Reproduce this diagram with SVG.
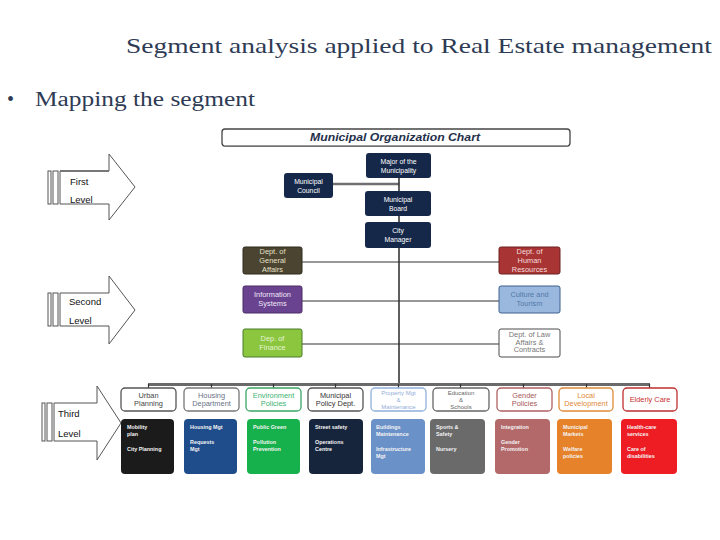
<svg xmlns="http://www.w3.org/2000/svg" width="720" height="540" viewBox="0 0 720 540">
<style>
.title{font-family:"Liberation Serif",serif;fill:#2e3b55}
.sans{font-family:"Liberation Sans",Arial,sans-serif}
.wt{font-family:"Liberation Sans",Arial,sans-serif;font-size:6.8px;fill:#ffffff;text-anchor:middle}
.hd{font-family:"Liberation Sans",Arial,sans-serif;font-size:7.4px;text-anchor:middle}
.h3{font-family:"Liberation Sans",Arial,sans-serif;font-size:6px;text-anchor:middle}
.bt{font-family:"Liberation Sans",Arial,sans-serif;font-size:5.4px;font-weight:bold;fill:#f4f4f4}
.lvl{font-family:"Liberation Sans",Arial,sans-serif;font-size:9.5px;fill:#111}
.arrow{fill:#ffffff;stroke:#555;stroke-width:1}
.bar{fill:#ffffff;stroke:#555;stroke-width:1}
.hbox{fill:#ffffff;stroke-width:1.3}
.conn{fill:none}
</style>
<rect width="720" height="540" fill="#ffffff"/>
<text class="title" x="126" y="53" font-size="22" textLength="586" lengthAdjust="spacingAndGlyphs">Segment analysis applied to Real Estate management</text>
<text class="title" x="7" y="106" font-size="20">•</text>
<text class="title" x="35" y="106" font-size="20.5" textLength="220" lengthAdjust="spacingAndGlyphs">Mapping the segment</text>

<!-- level arrows -->
<g id="level1">
<rect class="bar" x="48" y="171" width="3" height="33"/>
<rect class="bar" x="53" y="171" width="5" height="33"/>
<path class="arrow" d="M60,171 H109 V154 L135,187 L109,220 V204 H60 Z"/>
<line x1="60" y1="171" x2="109" y2="171" stroke="#777" stroke-width="2"/>
<text class="lvl" x="70" y="185">First</text>
<text class="lvl" x="70" y="203">Level</text>
</g>
<g id="level2">
<rect class="bar" x="48" y="293" width="3" height="33"/>
<rect class="bar" x="53" y="293" width="5" height="33"/>
<path class="arrow" d="M60,293 H109 V276 L135,310 L109,344 V326 H60 Z"/>
<text class="lvl" x="69" y="305">Second</text>
<text class="lvl" x="69" y="324">Level</text>
</g>
<g id="level3">
<rect class="bar" x="42" y="403" width="3" height="38"/>
<rect class="bar" x="47" y="403" width="5" height="38"/>
<path class="arrow" d="M54,403 H97 V386 L121,423 L97,460 V441 H54 Z"/>
<text class="lvl" x="58" y="417">Third</text>
<text class="lvl" x="58" y="437">Level</text>
</g>

<!-- header -->
<g id="chart-title">
<rect x="222" y="129" width="348" height="17" rx="3" fill="#ffffff" stroke="#444" stroke-width="1.3"/>
<line x1="224" y1="145.5" x2="568" y2="145.5" stroke="#999" stroke-width="1"/>
<text class="sans" x="395" y="141" font-size="11" font-weight="bold" font-style="italic" fill="#24304a" text-anchor="middle" textLength="170" lengthAdjust="spacingAndGlyphs">Municipal Organization Chart</text>
</g>

<!-- connectors -->
<g id="connectors" class="conn">
<line x1="333" y1="184" x2="399" y2="184" stroke="#707070" stroke-width="2.5"/>
<line x1="399" y1="178" x2="399" y2="384" stroke="#2a2a2a" stroke-width="1.5"/>
<line x1="302" y1="262" x2="499" y2="262" stroke="#333" stroke-width="1.2"/>
<line x1="302" y1="301" x2="499" y2="301" stroke="#333" stroke-width="1.2"/>
<line x1="302" y1="344" x2="499" y2="344" stroke="#333" stroke-width="1.2"/>
<line x1="148" y1="384.5" x2="650" y2="384.5" stroke="#6a6a6a" stroke-width="3"/>
<g stroke="#333" stroke-width="1.2">
<line x1="148.5" y1="384" x2="148.5" y2="388"/>
<line x1="211.5" y1="384" x2="211.5" y2="388"/>
<line x1="273.5" y1="384" x2="273.5" y2="388"/>
<line x1="335.5" y1="384" x2="335.5" y2="388"/>
<line x1="398.5" y1="384" x2="398.5" y2="388"/>
<line x1="460.5" y1="384" x2="460.5" y2="388"/>
<line x1="523.5" y1="384" x2="523.5" y2="388"/>
<line x1="586.5" y1="384" x2="586.5" y2="388"/>
<line x1="649.5" y1="384" x2="649.5" y2="388"/>
</g>
</g>

<!-- top nodes -->
<g id="mayor">
<rect x="366" y="153" width="65" height="25" rx="3" fill="#16284a"/>
<text class="wt" x="398.5" y="163.5">Major of the</text>
<text class="wt" x="398.5" y="173">Municipality</text>
</g>
<g id="council">
<rect x="284" y="173" width="49" height="25" rx="3" fill="#16284a"/>
<text class="wt" x="308.5" y="183.5">Municipal</text>
<text class="wt" x="308.5" y="193">Council</text>
</g>
<g id="board">
<rect x="365" y="191" width="66" height="25" rx="3" fill="#16284a"/>
<text class="wt" x="398" y="201.5">Municipal</text>
<text class="wt" x="398" y="211">Board</text>
</g>
<g id="city-manager">
<rect x="365" y="222" width="66" height="26" rx="3" fill="#16284a"/>
<text class="wt" x="398" y="232.5">City</text>
<text class="wt" x="398" y="242">Manager</text>
</g>

<!-- second level -->
<g id="general-affairs">
<rect x="243" y="247" width="59" height="27" rx="2" fill="#4a4430" stroke="#2f2b1e" stroke-width="1"/>
<text class="hd" x="272.5" y="254" fill="#e8e0c8">Dept. of</text>
<text class="hd" x="272.5" y="263" fill="#e8e0c8">General</text>
<text class="hd" x="272.5" y="272" fill="#e8e0c8">Affairs</text>
</g>
<g id="human-resources">
<rect x="499" y="247" width="61" height="27" rx="2" fill="#a83434" stroke="#6e2020" stroke-width="1"/>
<text class="hd" x="529.5" y="254" fill="#f6dede">Dept. of</text>
<text class="hd" x="529.5" y="263" fill="#f6dede">Human</text>
<text class="hd" x="529.5" y="272" fill="#f6dede">Resources</text>
</g>
<g id="information-systems">
<rect x="243" y="286" width="59" height="27" rx="2" fill="#6a4390" stroke="#4a2d66" stroke-width="1"/>
<text class="hd" x="272.5" y="297" fill="#efe6f6">Information</text>
<text class="hd" x="272.5" y="306" fill="#efe6f6">Systems</text>
</g>
<g id="culture-tourism">
<rect x="499" y="286" width="61" height="27" rx="2" fill="#9ab8dd" stroke="#3e5f8e" stroke-width="1"/>
<text class="hd" x="529.5" y="297" fill="#5378a8">Culture and</text>
<text class="hd" x="529.5" y="306" fill="#5378a8">Tourism</text>
</g>
<g id="finance">
<rect x="243" y="329" width="59" height="28" rx="2" fill="#8cc63f" stroke="#4a7a2a" stroke-width="1"/>
<text class="hd" x="272.5" y="341" fill="#e6f4d6">Dep. of</text>
<text class="hd" x="272.5" y="350" fill="#e6f4d6">Finance</text>
</g>
<g id="law-affairs">
<rect x="499" y="329" width="61" height="28" rx="2" fill="#ffffff" stroke="#4a4a4a" stroke-width="1"/>
<text class="hd" x="529.5" y="337" fill="#777">Dept. of Law</text>
<text class="hd" x="529.5" y="344.5" fill="#777">Affairs &amp;</text>
<text class="hd" x="529.5" y="352" fill="#777">Contracts</text>
</g>

<!-- third level -->
<g id="urban-planning">
<rect class="hbox" x="121" y="388" width="55" height="23" rx="4" stroke="#555"/>
<text class="hd" x="148.5" y="398" fill="#444">Urban</text>
<text class="hd" x="148.5" y="406" fill="#444">Planning</text>
<rect x="121" y="419" width="53" height="55" rx="4" fill="#1b1b1b"/>
<text class="bt" x="127" y="429">Mobility</text>
<text class="bt" x="127" y="436">plan</text>
<text class="bt" x="127" y="451">City Planning</text>
</g>
<g id="housing">
<rect class="hbox" x="184" y="388" width="55" height="23" rx="4" stroke="#777"/>
<text class="hd" x="211.5" y="398" fill="#6a7388">Housing</text>
<text class="hd" x="211.5" y="406" fill="#6a7388">Department</text>
<rect x="184" y="419" width="53" height="55" rx="4" fill="#1f4c8a"/>
<text class="bt" x="190" y="429">Housing Mgt</text>
<text class="bt" x="190" y="444">Requests</text>
<text class="bt" x="190" y="451">Mgt</text>
</g>
<g id="environment">
<rect class="hbox" x="246" y="388" width="55" height="23" rx="4" stroke="#3aa866"/>
<text class="hd" x="273.5" y="398" fill="#3cb371">Environment</text>
<text class="hd" x="273.5" y="406" fill="#3cb371">Policies</text>
<rect x="247" y="419" width="53" height="55" rx="4" fill="#16b14c"/>
<text class="bt" x="253" y="429">Public Green</text>
<text class="bt" x="253" y="444">Pollution</text>
<text class="bt" x="253" y="451">Prevention</text>
</g>
<g id="municipal-policy">
<rect class="hbox" x="308" y="388" width="55" height="23" rx="4" stroke="#555"/>
<text class="hd" x="335.5" y="398" fill="#333">Municipal</text>
<text class="hd" x="335.5" y="406" fill="#333">Policy Dept.</text>
<rect x="309" y="419" width="54" height="55" rx="4" fill="#16243c"/>
<text class="bt" x="315" y="429">Street safety</text>
<text class="bt" x="315" y="444">Operations</text>
<text class="bt" x="315" y="451">Centre</text>
</g>
<g id="property">
<rect class="hbox" x="371" y="388" width="55" height="23" rx="4" stroke="#8fb0dc"/>
<text class="h3" x="398.5" y="394.5" fill="#8fadd8">Property Mgt</text>
<text class="h3" x="398.5" y="401.7" fill="#8fadd8">&amp;</text>
<text class="h3" x="398.5" y="408.9" fill="#8fadd8">Maintenance</text>
<rect x="371" y="419" width="54" height="55" rx="4" fill="#6b91c9"/>
<text class="bt" x="376" y="429">Buildings</text>
<text class="bt" x="376" y="436">Maintenance</text>
<text class="bt" x="376" y="451">Infrastructure</text>
<text class="bt" x="376" y="458">Mgt</text>
</g>
<g id="education">
<rect class="hbox" x="433" y="388" width="56" height="23" rx="4" stroke="#666"/>
<text class="h3" x="461" y="394.5" fill="#666">Education</text>
<text class="h3" x="461" y="401.7" fill="#666">&amp;</text>
<text class="h3" x="461" y="408.9" fill="#666">Schools</text>
<rect x="430" y="419" width="55" height="55" rx="4" fill="#6a6a6a"/>
<text class="bt" x="436" y="429">Sports &amp;</text>
<text class="bt" x="436" y="436">Safety</text>
<text class="bt" x="436" y="451">Nursery</text>
</g>
<g id="gender">
<rect class="hbox" x="497" y="388" width="55" height="23" rx="4" stroke="#b06060"/>
<text class="hd" x="524.5" y="398" fill="#a85858">Gender</text>
<text class="hd" x="524.5" y="406" fill="#a85858">Policies</text>
<rect x="495" y="419" width="55" height="55" rx="4" fill="#b3686a"/>
<text class="bt" x="501" y="429">Integration</text>
<text class="bt" x="501" y="444">Gender</text>
<text class="bt" x="501" y="451">Promotion</text>
</g>
<g id="local-development">
<rect class="hbox" x="559" y="388" width="54" height="23" rx="4" stroke="#e08a38"/>
<text class="hd" x="586" y="398" fill="#e08a38">Local</text>
<text class="hd" x="586" y="406" fill="#e08a38">Development</text>
<rect x="557" y="419" width="55" height="55" rx="4" fill="#e6832a"/>
<text class="bt" x="563" y="429">Municipal</text>
<text class="bt" x="563" y="436">Markets</text>
<text class="bt" x="563" y="451">Welfare</text>
<text class="bt" x="563" y="458">policies</text>
</g>
<g id="elderly-care">
<rect class="hbox" x="623" y="388" width="54" height="23" rx="4" stroke="#c03030"/>
<text class="hd" x="650" y="402" fill="#c8302e" font-size="8">Elderly Care</text>
<rect x="621" y="419" width="56" height="55" rx="4" fill="#ee1d24"/>
<text class="bt" x="627" y="429">Health-care</text>
<text class="bt" x="627" y="436">services</text>
<text class="bt" x="627" y="451">Care of</text>
<text class="bt" x="627" y="458">disabilities</text>
</g>
</svg>
